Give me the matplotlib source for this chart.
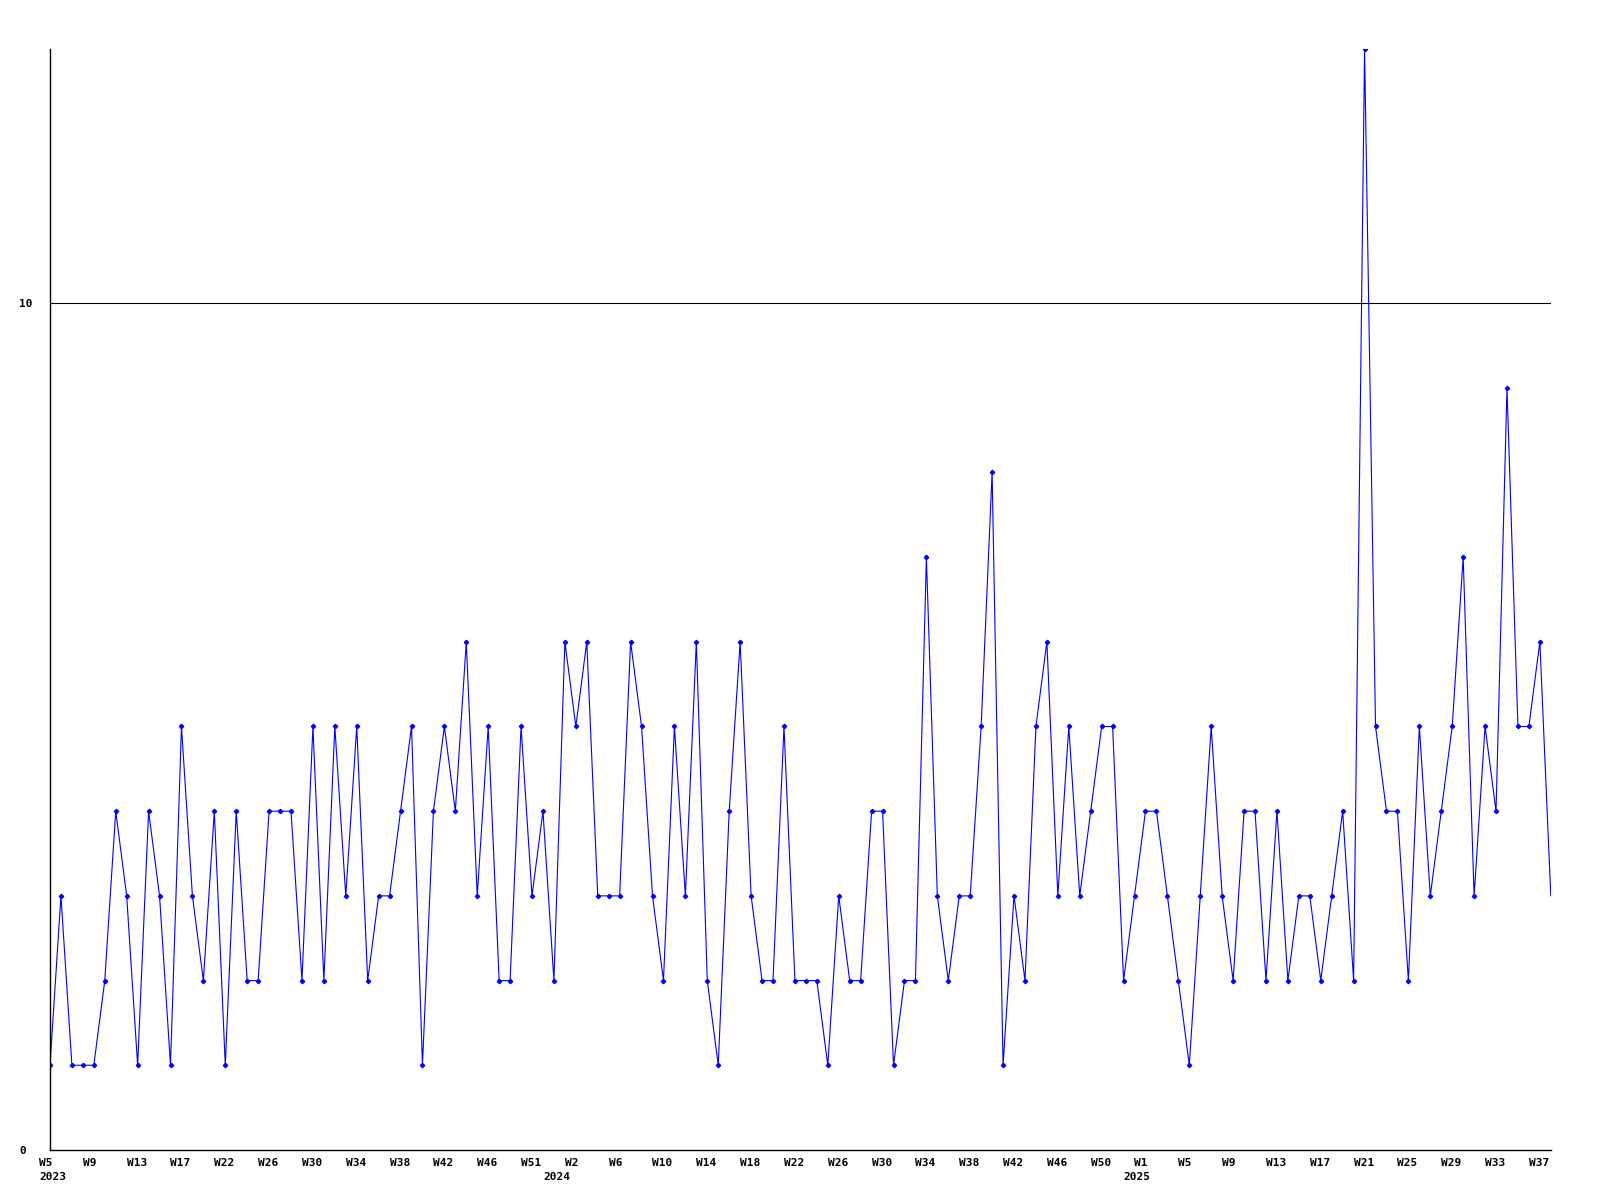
import matplotlib
matplotlib.use("Agg")
import matplotlib.pyplot as plt
from matplotlib.transforms import ScaledTranslation

# weekly counts, 2023 W5 .. 2025 W38
counts = [1, 3, 1, 1, 1, 2, 4, 3, 1, 4, 3, 1, 5, 3, 2, 4, 1, 4, 2, 2,
          4, 4, 4, 2, 5, 2, 5, 3, 5, 2, 3, 3, 4, 5, 1, 4, 5, 4, 6, 3,
          5, 2, 2, 5, 3, 4, 2, 6, 5, 6, 3, 3, 3, 6, 5, 3, 2, 5, 3, 6,
          2, 1, 4, 6, 3, 2, 2, 5, 2, 2, 2, 1, 3, 2, 2, 4, 4, 1, 2, 2,
          7, 3, 2, 3, 3, 5, 8, 1, 3, 2, 5, 6, 3, 5, 3, 4, 5, 5, 2, 3,
          4, 4, 3, 2, 1, 3, 5, 3, 2, 4, 4, 2, 4, 2, 3, 3, 2, 3, 4, 2,
          13, 5, 4, 4, 2, 5, 3, 4, 5, 7, 3, 5, 4, 9, 5, 5, 6, 3]

week_labels = ["W5", "W9", "W13", "W17", "W22", "W26", "W30", "W34", "W38",
               "W42", "W46", "W51", "W2", "W6", "W10", "W14", "W18", "W22",
               "W26", "W30", "W34", "W38", "W42", "W46", "W50", "W1", "W5",
               "W9", "W13", "W17", "W21", "W25", "W29", "W33", "W37"]
years = ["2023", "2024", "2025"]
year_pos = [0, 46, 99]

fig = plt.figure(figsize=(16, 12), dpi=100)
ax = fig.add_axes([0.03125, 0.0417, 0.938, 0.9175])

x = list(range(len(counts)))
ax.plot(x, counts, color="#0000ff", lw=0.8, marker="D", markersize=2.2,
        markevery=slice(0, len(counts) - 1))
ax.axhline(10, color="black", lw=0.8)

ax.set_xlim(0, len(counts) - 1)
ax.set_ylim(0, 13)

for s in ["top", "right"]:
    ax.spines[s].set_visible(False)
for s in ["left", "bottom"]:
    ax.spines[s].set_linewidth(1.0)
    ax.spines[s].set_color("black")

font = dict(family="DejaVu Sans Mono", weight="bold", size=8)

ax.set_xticks(range(0, len(counts), 4))
ax.set_xticklabels(week_labels, fontdict=font, ha="left")
ax.tick_params(axis="x", length=0, pad=6)
shift = ScaledTranslation(-11 / 100, 0, fig.dpi_scale_trans)
for lab in ax.get_xticklabels():
    lab.set_transform(lab.get_transform() + shift)

ax.set_yticks([0, 10])
ax.set_yticklabels(["0", "10"], fontdict=font, ha="left")
ax.tick_params(axis="y", length=0, pad=22)

for yr, p in zip(years, year_pos):
    ax.text(p, -0.020, yr, transform=ax.get_xaxis_transform() + shift,
            ha="left", va="top", **font)

fig.savefig("out.png", dpi=100)
